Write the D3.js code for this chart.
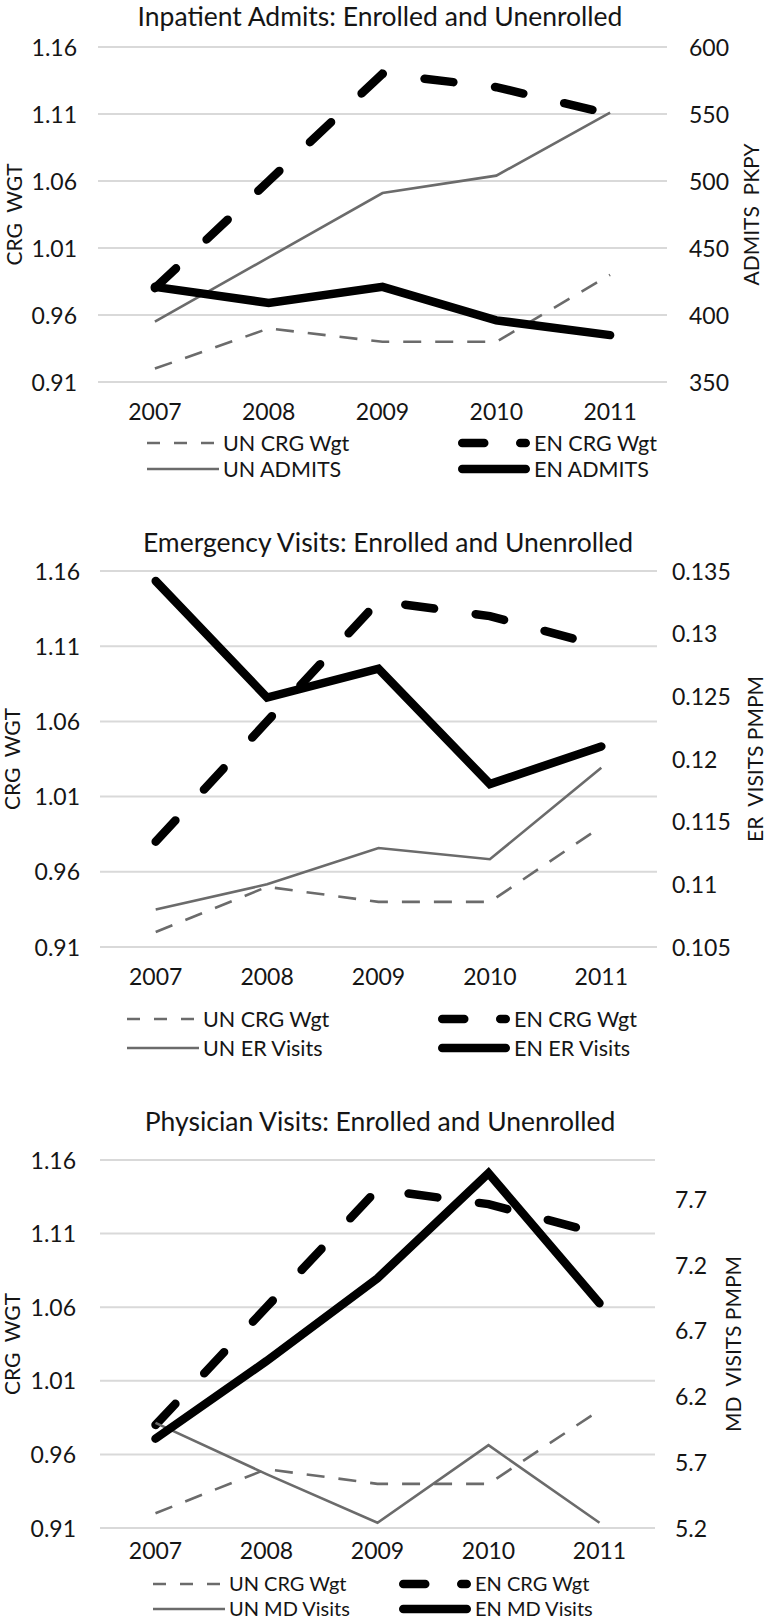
<!DOCTYPE html>
<html>
<head>
<meta charset="utf-8">
<script src="https://cdn.jsdelivr.net/npm/d3@7"></script>
<style>
  html, body { margin: 0; padding: 0; background: #fff; }
  svg { display: block; }
  text { font-family: Lato, "Open Sans", sans-serif; fill: #151515; }
</style>
</head>
<body>
<svg id="chart" width="770" height="1624"></svg>
<script>
// ---------- data ----------
const years = ["2007", "2008", "2009", "2010", "2011"];
const unCrgWgt = [0.92, 0.95, 0.94, 0.94, 0.99];
const enCrgWgt = [0.98, 1.06, 1.14, 1.13, 1.11];
const crgTicks = [0.91, 0.96, 1.01, 1.06, 1.11, 1.16];

const unAdmits = [395, 443, 491, 504, 551];
const enAdmits = [421, 409, 421, 396, 385];
const admitsTicks = [350, 400, 450, 500, 550, 600];

const unErVisits = [0.108, 0.110, 0.1129, 0.112, 0.1193];
const enErVisits = [0.1342, 0.1249, 0.1272, 0.118, 0.121];
const erTicks = [0.105, 0.11, 0.115, 0.12, 0.125, 0.13, 0.135];

const unMdVisits = [6.0, 5.61, 5.24, 5.83, 5.24];
const enMdVisits = [5.88, 6.47, 7.10, 7.90, 6.91];
const mdTicks = [5.2, 5.7, 6.2, 6.7, 7.2, 7.7];

// ---------- panel setup ----------
const panels = [
  {
    title: "Inpatient Admits: Enrolled and Unenrolled",
    rightTitle: "ADMITS\u00A0\u00A0PKPY",
    un: unAdmits, en: enAdmits, rTicks: admitsTicks, rDomain: [350, 600],
    unLabel: "UN ADMITS", enLabel: "EN ADMITS",
    top: 47, bottom: 382, left: 98, right: 667,
    titleY: 17, titleX: 380, xLabelY: 412, legY: [443, 469], legUN: 147, legEN: 458, legFs: 21.5,
    lPad: 21, rPad: 22, leftTitleX: 15, rightTitleX: 752
  },
  {
    title: "Emergency Visits: Enrolled and Unenrolled",
    rightTitle: "ER\u00A0\u00A0VISITS PMPM",
    un: unErVisits, en: enErVisits, rTicks: erTicks, rDomain: [0.105, 0.135],
    unLabel: "UN ER Visits", enLabel: "EN ER Visits",
    top: 571, bottom: 947, left: 100, right: 657,
    titleY: 543, titleX: 388, xLabelY: 977, legY: [1019, 1048], legUN: 127, legEN: 438, legFs: 21.5,
    lPad: 20, rPad: 15, leftTitleX: 13, rightTitleX: 756
  },
  {
    title: "Physician Visits: Enrolled and Unenrolled",
    rightTitle: "MD\u00A0\u00A0VISITS PMPM",
    un: unMdVisits, en: enMdVisits, rTicks: mdTicks, rDomain: [5.2, 8.0],
    unLabel: "UN MD Visits", enLabel: "EN MD Visits",
    top: 1160, bottom: 1528, left: 100, right: 655,
    titleY: 1122, titleX: 380, xLabelY: 1551, legY: [1584, 1609], legUN: 153, legEN: 399, legFs: 20,
    lPad: 24, rPad: 20, leftTitleX: 13, rightTitleX: 734
  }
];

const svg = d3.select("#chart");
svg.append("rect").attr("width", 770).attr("height", 1624).attr("fill", "#fff");

const UN_COLOR = "#6b6b6b";
const EN_COLOR = "#000";
const EN_W = 8.5, UN_W = 2.6;
const TICK_FS = 23, TITLE_FS = 26.5;

panels.forEach(p => {
  const g = svg.append("g");
  const x = d3.scaleBand().domain(years).range([p.left, p.right]).padding(0);
  const yL = d3.scaleLinear().domain([0.91, 1.16]).range([p.bottom, p.top]);
  const yR = d3.scaleLinear().domain(p.rDomain).range([p.bottom, p.top]);
  const cx = d => x(d) + x.bandwidth() / 2;

  // title
  g.append("text").attr("x", p.titleX).attr("y", p.titleY).attr("dy", "0.35em")
    .attr("text-anchor", "middle").attr("font-size", TITLE_FS).text(p.title);

  // gridlines
  g.append("g").selectAll("line").data(crgTicks).join("line")
    .attr("x1", p.left).attr("x2", p.right)
    .attr("y1", d => yL(d)).attr("y2", d => yL(d))
    .attr("stroke", "#d9d9d9").attr("stroke-width", 2);

  // left axis
  const axL = g.append("g").attr("transform", `translate(${p.left},0)`)
    .call(d3.axisLeft(yL).tickValues(crgTicks).tickSize(0).tickPadding(p.lPad).tickFormat(d => String(d)));
  axL.select(".domain").remove();
  axL.selectAll("text").attr("font-size", TICK_FS).attr("font-family", "Lato").attr("fill", "#151515").attr("dy", "0.35em");

  // right axis
  const axR = g.append("g").attr("transform", `translate(${p.right},0)`)
    .call(d3.axisRight(yR).tickValues(p.rTicks).tickSize(0).tickPadding(p.rPad).tickFormat(d => String(d)));
  axR.select(".domain").remove();
  axR.selectAll("text").attr("font-size", TICK_FS).attr("font-family", "Lato").attr("fill", "#151515").attr("dy", "0.35em");

  // bottom axis
  const axB = g.append("g").attr("transform", `translate(0,${p.bottom})`)
    .call(d3.axisBottom(x).tickSize(0).tickPadding(0));
  axB.select(".domain").remove();
  axB.selectAll("text").attr("font-size", TICK_FS).attr("font-family", "Lato").attr("fill", "#151515")
    .attr("y", p.xLabelY - p.bottom).attr("dy", "0.35em");

  // axis titles
  const midY = (p.top + p.bottom) / 2;
  g.append("text").attr("transform", `translate(${p.leftTitleX},${midY}) rotate(-90)`)
    .attr("dy", "0.35em").attr("text-anchor", "middle").attr("font-size", 21)
    .text("CRG\u00A0\u00A0WGT");
  g.append("text").attr("transform", `translate(${p.rightTitleX},${midY}) rotate(-90)`)
    .attr("dy", "0.35em").attr("text-anchor", "middle").attr("font-size", 21)
    .text(p.rightTitle);

  // lines
  const lineL = d3.line().x((d, i) => cx(years[i])).y(d => yL(d));
  const lineR = d3.line().x((d, i) => cx(years[i])).y(d => yR(d));

  g.append("path").attr("d", lineL(unCrgWgt)).attr("fill", "none")
    .attr("stroke", UN_COLOR).attr("stroke-width", UN_W).attr("stroke-dasharray", "18,14");
  g.append("path").attr("d", lineL(enCrgWgt)).attr("fill", "none")
    .attr("stroke", EN_COLOR).attr("stroke-width", EN_W).attr("stroke-linecap", "round")
    .attr("stroke-dasharray", "29,42");
  g.append("path").attr("d", lineR(p.un)).attr("fill", "none")
    .attr("stroke", UN_COLOR).attr("stroke-width", UN_W);
  g.append("path").attr("d", lineR(p.en)).attr("fill", "none")
    .attr("stroke", EN_COLOR).attr("stroke-width", EN_W).attr("stroke-linecap", "round")
    .attr("stroke-linejoin", "miter");

  // legend
  const legend = [
    { label: "UN CRG Wgt", x: p.legUN, y: p.legY[0], color: UN_COLOR, w: UN_W, dash: "13,14", cap: "butt" },
    { label: "EN CRG Wgt", x: p.legEN, y: p.legY[0], color: EN_COLOR, w: EN_W, dash: "22,36", cap: "round" },
    { label: p.unLabel, x: p.legUN, y: p.legY[1], color: UN_COLOR, w: UN_W, dash: null, cap: "butt" },
    { label: p.enLabel, x: p.legEN, y: p.legY[1], color: EN_COLOR, w: EN_W, dash: null, cap: "round" }
  ];
  const lg = g.append("g").selectAll("g").data(legend).join("g");
  lg.append("line")
    .attr("x1", d => d.x + (d.cap === "round" ? d.w / 2 : 0))
    .attr("x2", d => d.x + 72 - (d.cap === "round" ? d.w / 2 : 0))
    .attr("y1", d => d.y).attr("y2", d => d.y)
    .attr("stroke", d => d.color).attr("stroke-width", d => d.w)
    .attr("stroke-linecap", d => d.cap)
    .attr("stroke-dasharray", d => d.dash);
  lg.append("text").attr("x", d => d.x + 76).attr("y", d => d.y).attr("dy", "0.35em")
    .attr("font-size", p.legFs).text(d => d.label);
});
</script>
</body>
</html>
